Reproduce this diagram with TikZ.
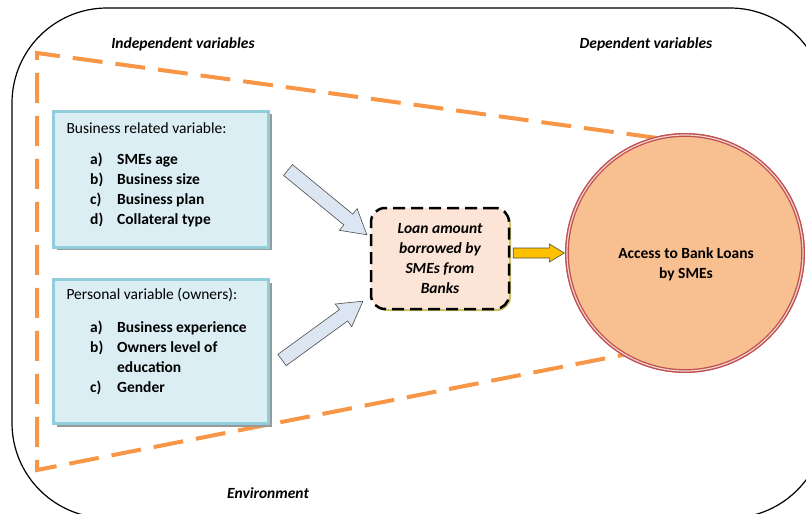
\documentclass[tikz,border=0pt]{standalone}
\usepackage{fontspec}
\setmainfont{Carlito}
\usetikzlibrary{calc,shadows}

\definecolor{boxfill}{RGB}{219,238,244}
\definecolor{boxline}{RGB}{146,205,220}
\definecolor{arrowfill}{RGB}{220,230,242}
\definecolor{loanfill}{RGB}{252,228,214}
\definecolor{circfill}{RGB}{248,192,144}
\definecolor{circline}{RGB}{192,80,77}
\definecolor{dashorange}{RGB}{247,150,70}
\definecolor{goldfill}{RGB}{255,192,0}

\begin{document}
\begin{tikzpicture}[x=1pt,y=-1pt,
    every node/.style={font=\fontsize{15.5}{20}\selectfont},
    heading/.style={font=\fontsize{15.5}{20}\selectfont\bfseries\itshape},
    varbox/.style={draw=boxline, line width=3pt, fill=boxfill, inner sep=0,
        drop shadow={shadow xshift=3pt, shadow yshift=-3pt, fill=black!40, opacity=1}},
    loanbox/.style={draw, line width=2.5pt, dash pattern=on 12pt off 6pt, fill=loanfill,
        rounded corners=14pt, minimum width=138pt, minimum height=101pt, align=center,
        font=\fontsize{15.5}{20}\selectfont\bfseries\itshape,
        drop shadow={shadow xshift=2pt, shadow yshift=-2pt, fill=olive!50, opacity=1}},
    bluearrow/.style={draw=black!70, line width=0.6pt, fill=arrowfill},
    envline/.style={dashorange, line width=4pt, dash pattern=on 30pt off 13pt}]

    \useasboundingbox (0,0) rectangle (806,514);
    \draw[line width=1.2pt, rounded corners=95pt] (12,8) rectangle (825,518);

    % headings
    \node[heading] (indep) at (183,44) {Independent variables};
    \node[heading] (dep) at (646,44) {Dependent variables};
    \node[heading] (env) at (268,493) {Environment};

    % circle of the dependent variable
    \node[circle, minimum size=236pt, fill=circfill, draw=circline, line width=1.3pt,
        double=circline!25, double distance=1.2pt] (access) at (685,253) {};
    \draw[envline] (access.104) -- (37,53) -- (37,470) -- (access.239);
    \node[circle, minimum size=236pt, fill=circfill, draw=circline, line width=1.3pt,
        double=circline!25, double distance=1.2pt] at (685,253) {};
    \node[font=\fontsize{15.5}{20}\selectfont\bfseries, align=center] (accesstext) at (686,264)
        {Access to Bank Loans\\by SMEs};

    % independent variables
    \node[varbox, minimum width=215pt, minimum height=136pt] (busbox) at (161,179) {};
    \node[anchor=west] (bustitle) at (63,128) {Business related variable:};
    \node[anchor=north west, inner sep=0, font=\fontsize{15.5}{20}\selectfont\bfseries] (buslist) at (90,150)
        {\begin{tabular}{@{}p{27pt}@{}l@{}}
        a) & SMEs age\\
        b) & Business size\\
        c) & Business plan\\
        d) & Collateral type
        \end{tabular}};

    \node[varbox, minimum width=215pt, minimum height=144pt] (perbox) at (161,351.5) {};
    \node[anchor=west] (pertitle) at (63,295) {Personal variable (owners):};
    \node[anchor=north west, inner sep=0, font=\fontsize{15.5}{20}\selectfont\bfseries] (perlist) at (90,318)
        {\begin{tabular}{@{}p{27pt}@{}l@{}}
        a) & Business experience\\
        b) & Owners level of\\
           & education\\
        c) & Gender
        \end{tabular}};

    % block arrows
    \begin{scope}[shift={(288,170)}, rotate=-39.4]
        \draw[bluearrow] (0,7) -- (78,7) -- (78,14) -- (102,0) -- (78,-14) -- (78,-7) -- (0,-7) -- cycle;
    \end{scope}
    \begin{scope}[shift={(282,360)}, rotate=36]
        \draw[bluearrow] (0,7) -- (76,7) -- (76,14) -- (100,0) -- (76,-14) -- (76,-7) -- (0,-7) -- cycle;
    \end{scope}

    % loan amount
    \node[loanbox] (loan) at (440,258.5) {Loan amount\\borrowed by\\SMEs from\\Banks};

    \coordinate (ya) at ($(loan.east |- access.west)+(3,0)$);
    \coordinate (yb) at ($(access.west)+(-2,0)$);
    \draw[draw=black!70, line width=0.6pt, fill=goldfill]
        ($(ya)+(0,-5)$) -- ($(yb)+(-15,-5)$) -- ($(yb)+(-15,-9)$) -- (yb)
        -- ($(yb)+(-15,9)$) -- ($(yb)+(-15,5)$) -- ($(ya)+(0,5)$) -- cycle;

\end{tikzpicture}
\end{document}
